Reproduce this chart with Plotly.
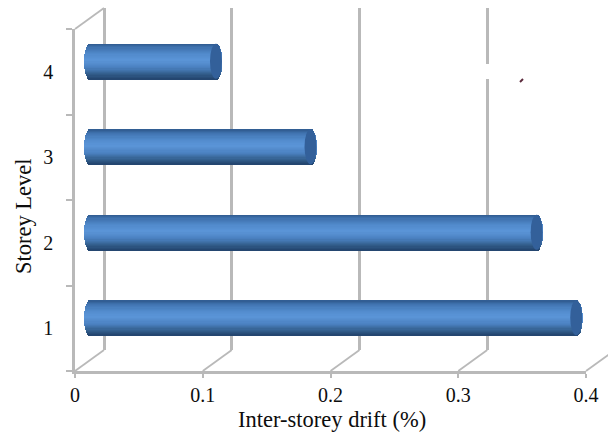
import math
import plotly.graph_objects as go

# ---- data ----
storeys = [1, 2, 3, 4]
drift = [0.381, 0.35, 0.173, 0.099]
x_ticks = [0, 0.1, 0.2, 0.3, 0.4]
x_labels = ["0", "0.1", "0.2", "0.3", "0.4"]
y_labels = ["1", "2", "3", "4"]
x_title = "Inter-storey drift (%)"
y_title = "Storey Level"

W, H = 608, 432
FONT = "Liberation Serif"
GREY = "#b9b9b9"
INK = "#0d0d0d"

# frame geometry in pixels
X0, X1 = 75, 586        # floor, x = 0 .. 0.4
Y0, Y1 = 371, 29        # front wall, storey 0.5 .. 4.5
DX, DY = 29, 21         # depth of the 3-D box
PX_PER_X = (X1 - X0) / 0.4
BAR_H = 0.41            # in storey bands
CAP_PX = 6
PAD_L, PAD_R = 10, 7    # room around the cylinder plane for the rounded ends


def dom_x(a, b):
    return [a / W, min(b / W, 1)]


def dom_y(bottom, top):
    return [(H - bottom) / H, (H - top) / H]


def mix(a, b, f):
    ca = [int(a[i:i + 2], 16) for i in (1, 3, 5)]
    cb = [int(b[i:i + 2], 16) for i in (1, 3, 5)]
    return "rgb(%d,%d,%d)" % tuple(round(p + (q - p) * f) for p, q in zip(ca, cb))


STOPS = [(0.0, "#2f5a8f"), (0.10, "#3f72ae"), (0.30, "#528bcd"), (0.47, "#5b95d8"),
         (0.68, "#4a80bf"), (0.85, "#34608f"), (1.0, "#22436c")]


def colour_at(f):
    for (p, a), (q, b) in zip(STOPS, STOPS[1:]):
        if f <= q:
            return mix(a, b, (f - p) / (q - p))
    return STOPS[-1][1]


fig = go.Figure()

# front axes and back wall: invisible carrier traces so the axes are drawn
for xa, ya in (("x", "y"), ("x2", "y2")):
    fig.add_trace(go.Scatter(x=[0], y=[1], xaxis=xa, yaxis=ya, mode="markers",
                             marker=dict(opacity=0), hoverinfo="skip", showlegend=False))

# cylinders: horizontal strips stacked into a vertical gradient, ends rounded
a = CAP_PX / PX_PER_X
N = 30
for i in range(N):
    f = (i + 0.5) / N
    t = 1 - 2 * f
    bulge = a * math.sqrt(max(1 - t * t, 0))
    base = [-bulge] * len(drift)
    length = [v + 2 * bulge for v in drift]
    fig.add_trace(go.Bar(
        y=storeys, x=length, base=base, orientation="h",
        xaxis="x3", yaxis="y3",
        width=BAR_H / N * 1.2,
        offset=BAR_H / 2 - BAR_H * (i + 1) / N,
        marker=dict(color=colour_at(f), line=dict(width=0)),
        hoverinfo="skip", showlegend=False,
    ))

shapes = []

# end caps of the cylinders
for s, v in zip(storeys, drift):
    shapes.append(dict(type="circle", xref="x3", yref="y3", layer="above",
                       x0=v - a, x1=v + a, y0=s - BAR_H / 2, y1=s + BAR_H / 2,
                       fillcolor="#33609a", line=dict(width=0)))

# floor diagonals joining the front axis to the back wall
for v in x_ticks:
    px = X0 + v * PX_PER_X
    shapes.append(dict(type="line", xref="paper", yref="paper", layer="below",
                       x0=px / W, y0=(H - Y0) / H, x1=(px + DX) / W, y1=(H - Y0 + DY) / H,
                       line=dict(color=GREY, width=1.8)))
# top-left diagonal of the side wall
shapes.append(dict(type="line", xref="paper", yref="paper", layer="below",
                   x0=X0 / W, y0=(H - Y1) / H, x1=(X0 + DX) / W, y1=(H - Y1 + DY) / H,
                   line=dict(color=GREY, width=1.8)))
# break in the 0.3 grid line and the stray speck of the original scan
shapes.append(dict(type="rect", xref="paper", yref="paper", layer="above",
                   x0=483 / W, x1=494 / W, y0=(H - 79) / H, y1=(H - 64) / H,
                   fillcolor="white", line=dict(width=0)))
shapes.append(dict(type="line", xref="paper", yref="paper", layer="above",
                   x0=520 / W, x1=523 / W, y0=(H - 82) / H, y1=(H - 79) / H,
                   line=dict(color="#5b2a3c", width=2)))

tick_font = dict(family=FONT, size=20, color=INK)
title_font = dict(family=FONT, size=22.5, color=INK)

annotations = [
    dict(text=x_title, xref="paper", yref="paper", x=332 / W, y=(H - 419.5) / H,
         xanchor="center", yanchor="middle", showarrow=False, font=title_font),
    dict(text=y_title, xref="paper", yref="paper", x=23 / W, y=(H - 216) / H,
         xanchor="center", yanchor="middle", showarrow=False, textangle=-90, font=title_font),
]

fig.update_layout(
    width=W, height=H, margin=dict(l=0, r=0, t=0, b=0),
    paper_bgcolor="white", plot_bgcolor="rgba(0,0,0,0)",
    barmode="overlay", bargap=0, showlegend=False,
    font=tick_font, shapes=shapes, annotations=annotations,
    xaxis=dict(domain=dom_x(X0, X1), range=[0, 0.4], anchor="y", automargin=False,
               tickvals=x_ticks, ticktext=x_labels, ticks="outside", ticklen=4,
               tickcolor=GREY, tickwidth=2, showgrid=False, zeroline=False,
               showline=True, linecolor=GREY, linewidth=2.5, tickfont=tick_font),
    yaxis=dict(domain=dom_y(Y0, Y1), range=[0.5, 4.5], anchor="x", automargin=False,
               tickvals=storeys, ticktext=y_labels, ticks="", showgrid=False,
               zeroline=False, showline=True, linecolor=GREY, linewidth=2.5,
               tickfont=tick_font, ticklabelstandoff=15,
               minor=dict(tick0=0.5, dtick=1, ticks="outside", ticklen=6,
                          tickcolor=GREY, tickwidth=2)),
    # back wall
    xaxis2=dict(domain=dom_x(X0 + DX - 2, W), range=[-2 / PX_PER_X, (W - X0 - DX) / PX_PER_X],
                anchor="y2", automargin=False, tickvals=x_ticks, showticklabels=False, ticks="",
                showgrid=True, gridcolor=GREY, gridwidth=2.5, zeroline=False, showline=False),
    yaxis2=dict(domain=dom_y(Y0 - DY, Y1 - DY), range=[0.5, 4.5], anchor="x2", automargin=False,
                showticklabels=False, ticks="", showgrid=False, zeroline=False,
                showline=False),
    # mid-depth plane that holds the cylinders
    xaxis3=dict(domain=dom_x(X0 + DX / 2 - PAD_L, X1 + DX / 2 + PAD_R),
                range=[-PAD_L / PX_PER_X, 0.4 + PAD_R / PX_PER_X], anchor="y3",
                automargin=False, visible=False),
    yaxis3=dict(domain=dom_y(Y0 - DY / 2, Y1 - DY / 2), range=[0.5, 4.5], anchor="x3",
                automargin=False, visible=False),
)

fig.write_html("out.html", config={"displayModeBar": False},
               post_script="document.body.style.margin='0';")
